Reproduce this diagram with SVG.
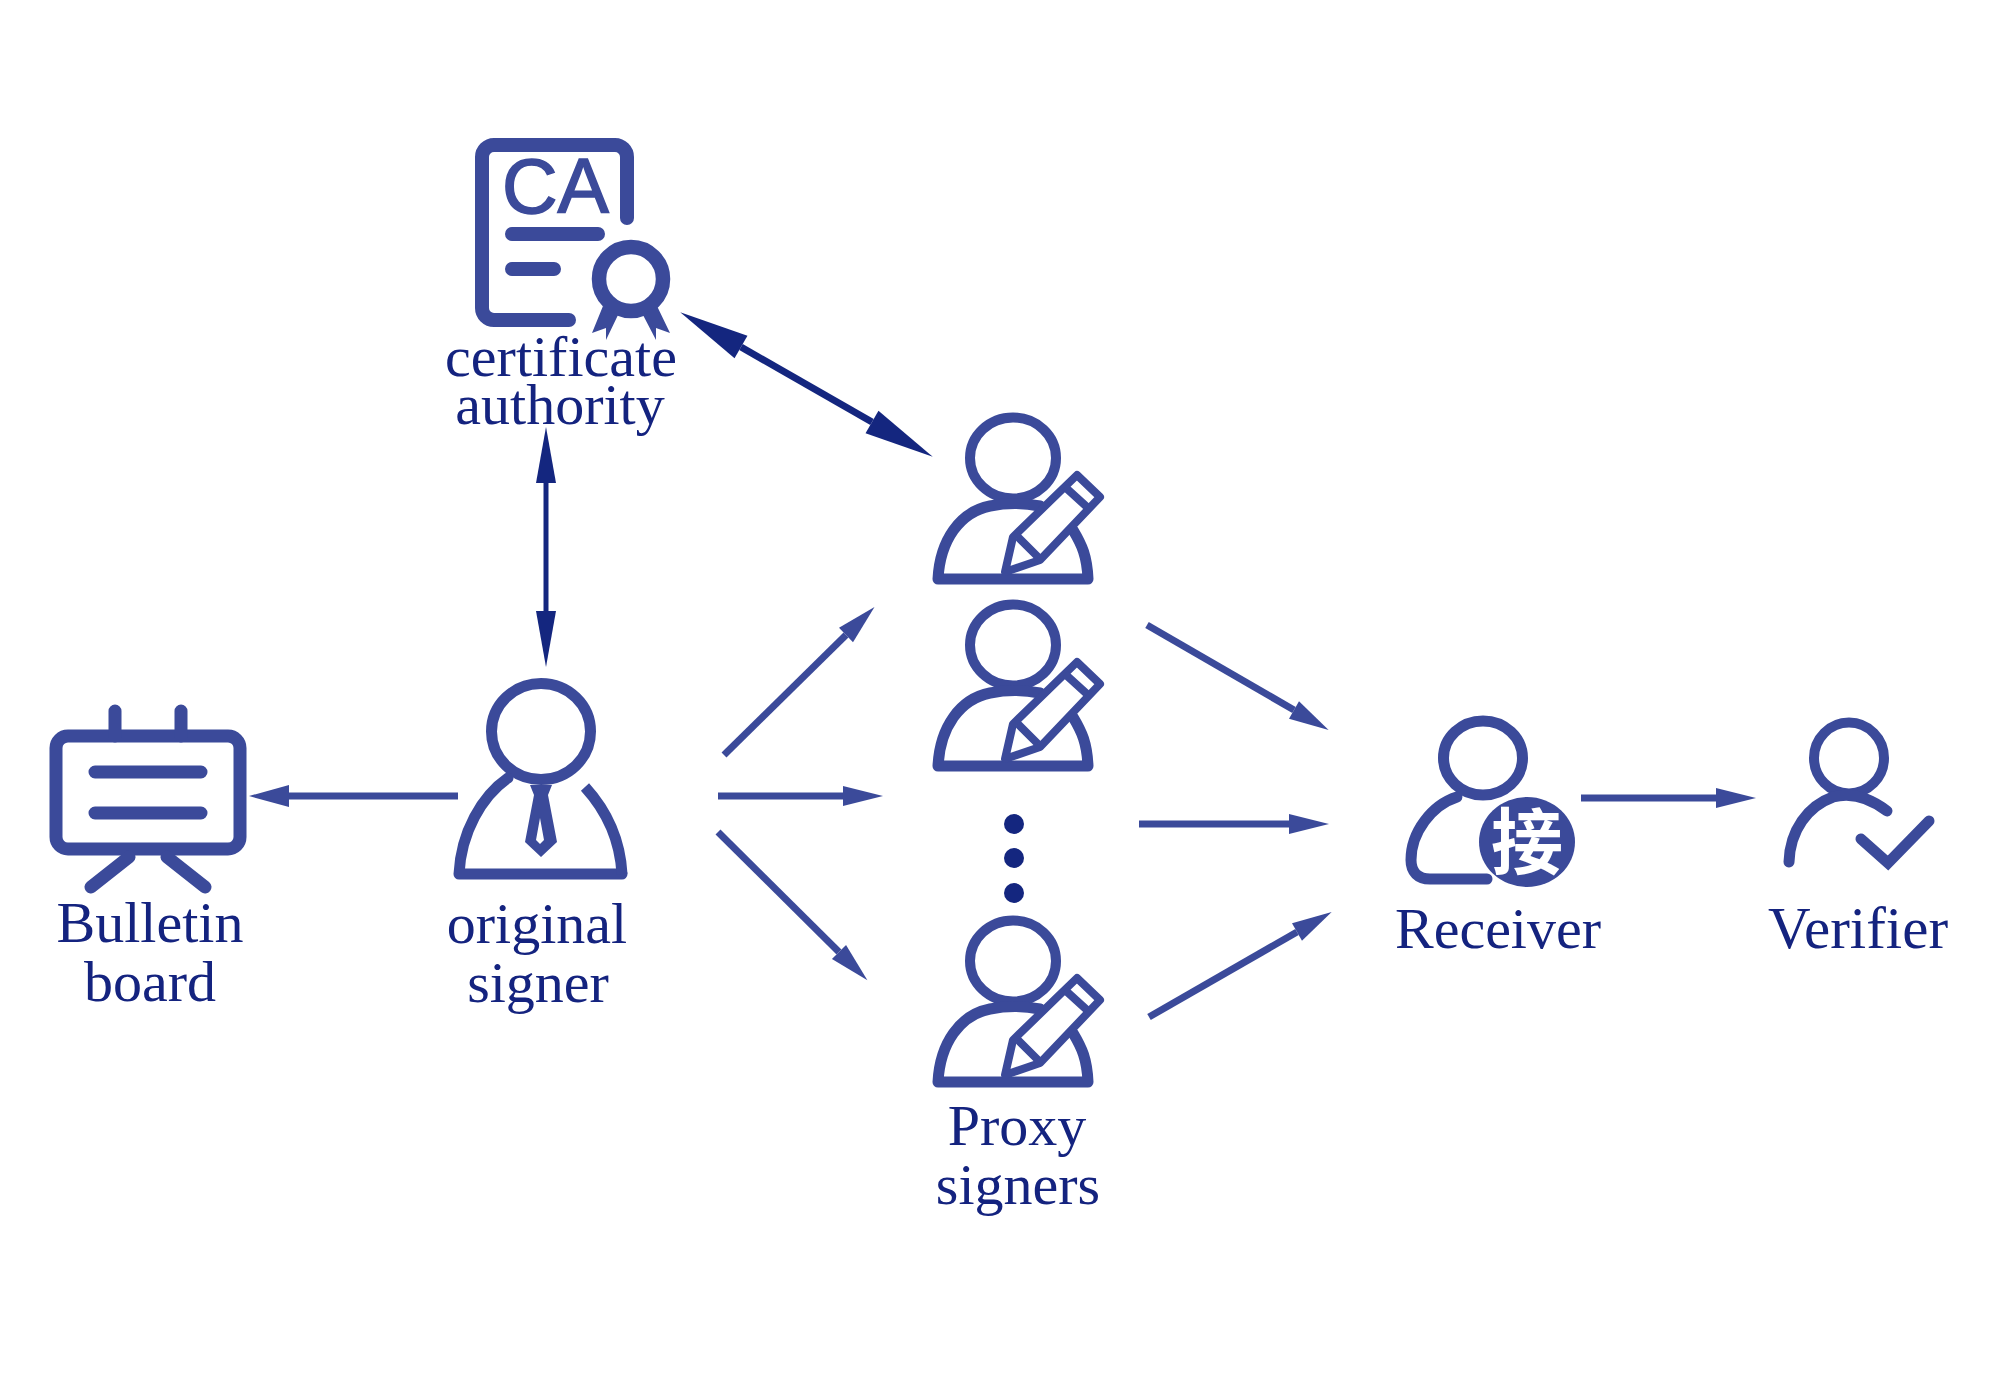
<svg xmlns="http://www.w3.org/2000/svg" xmlns:xlink="http://www.w3.org/1999/xlink" width="2000" height="1395" viewBox="0 0 2000 1395">
<style>
.i{fill:none;stroke:#3b4a9a;stroke-width:11;stroke-linecap:round;stroke-linejoin:round}
.f{fill:#3b4a9a;stroke:none}
.t{font-family:"Liberation Serif","Times New Roman",serif;font-size:58px;fill:#14237f;text-anchor:middle}
.a{stroke:#3b4a9a;stroke-width:7;fill:none}
.d{stroke:#14267f;fill:none}
</style>
<defs>
<marker id="h" markerUnits="userSpaceOnUse" markerWidth="40" markerHeight="24" refX="0" refY="12" orient="auto" overflow="visible"><path d="M0 1L40 12L0 23Z" fill="#3b4a9a"/></marker>
<marker id="h2" markerUnits="userSpaceOnUse" markerWidth="40" markerHeight="24" refX="0" refY="12" orient="auto" overflow="visible"><path d="M0 2L40 12L0 22Z" fill="#3b4a9a"/></marker>
<marker id="dd" markerUnits="userSpaceOnUse" markerWidth="70" markerHeight="28" refX="0" refY="14" orient="auto-start-reverse" overflow="visible"><path d="M0 1L70 14L0 27Z" fill="#14267f"/></marker>
<marker id="dv" markerUnits="userSpaceOnUse" markerWidth="56" markerHeight="24" refX="0" refY="12" orient="auto-start-reverse" overflow="visible"><path d="M0 2L56 12L0 22Z" fill="#14267f"/></marker>
<g id="proxyIcon">
<ellipse cx="1013" cy="458" rx="43" ry="40.500" fill="none" stroke="#3b4a9a" stroke-width="10"/>
<path class="i" d="M938 579H1088C1087 556 1082 545 1073 530M938 579C940 540 960 512 990 506C1005 503 1025 503 1040 506"/>
<path d="M1005 572L1013 537L1077 475L1100 497L1040 560Z" fill="#fff" stroke="#3b4a9a" stroke-width="8" stroke-linejoin="round"/>
<path d="M1018 537L1038 557M1065 487L1087 507" fill="none" stroke="#3b4a9a" stroke-width="8"/>
</g>
</defs>
<rect width="2000" height="1395" fill="#fff"/>
<g id="connectors">
<line class="d" stroke-width="7" x1="741" y1="347" x2="872" y2="422" marker-start="url(#dd)" marker-end="url(#dd)"/>
<line class="d" stroke-width="5" x1="546" y1="483" x2="546" y2="611" marker-start="url(#dv)" marker-end="url(#dv)"/>
<line class="a" x1="458" y1="796" x2="289" y2="796" marker-end="url(#h)"/>
<line class="a" x1="724" y1="755" x2="846" y2="635" marker-end="url(#h2)"/>
<line class="a" x1="718" y1="796" x2="843" y2="796" marker-end="url(#h2)"/>
<line class="a" x1="718" y1="832" x2="839" y2="952" marker-end="url(#h2)"/>
<line class="a" x1="1147" y1="625" x2="1294" y2="710" marker-end="url(#h2)"/>
<line class="a" x1="1139" y1="824" x2="1289" y2="824" marker-end="url(#h2)"/>
<line class="a" x1="1149" y1="1017" x2="1297" y2="932" marker-end="url(#h2)"/>
<line class="a" x1="1581" y1="798" x2="1716" y2="798" marker-end="url(#h2)"/>
</g>
<g id="certificate-authority">
<path class="i" style="stroke-width:14" d="M569 320H494A12 12 0 0 1 482 308V157A12 12 0 0 1 494 145H615A12 12 0 0 1 627 157V218"/>
<text x="555.500" y="213" font-family="Liberation Sans,Arial,sans-serif" font-size="77" fill="#3b4a9a" stroke="#3b4a9a" stroke-width="1.500" text-anchor="middle">CA</text>
<path class="i" style="stroke-width:14" d="M512 234H598M512 269H554"/>
<circle cx="631" cy="279" r="32" fill="none" stroke="#3b4a9a" stroke-width="14.500"/>
<path class="f" d="M603 306L592 333L606 328L606 340L618 315ZM657 306L670 333L656 328L656 340L643 315Z"/>
<text class="t" x="561" y="376">certificate</text>
<text class="t" x="560" y="424">authority</text>
</g>
<g id="bulletin-board">
<rect x="56" y="736" width="184" height="113" rx="12" fill="none" stroke="#3b4a9a" stroke-width="13"/>
<path class="i" style="stroke-width:13" d="M115 711V736M181 711V736M95 772H201M95 813H201M129 857L91 887M167 857L205 887"/>
<text class="t" x="150" y="942">Bulletin</text>
<text class="t" x="150" y="1001">board</text>
</g>
<g id="original-signer">
<ellipse cx="541" cy="731.500" rx="49.500" ry="48" fill="none" stroke="#3b4a9a" stroke-width="11"/>
<path class="i" d="M459 874H622M459 874C461 832 482 796 508 778"/>
<path fill="none" stroke="#3b4a9a" stroke-width="11" d="M622 874C620 838 606 810 585 787"/>
<path class="f" fill-rule="evenodd" d="M530 785H552L548 795L557 842L541 857L525 842L534 795ZM540 818L536 840L540 844L544 840Z"/>
<text class="t" x="537" y="943">original</text>
<text class="t" x="538" y="1002">signer</text>
</g>
<g id="proxy-signers">
<use href="#proxyIcon" xlink:href="#proxyIcon"/>
<use href="#proxyIcon" xlink:href="#proxyIcon" y="187"/>
<use href="#proxyIcon" xlink:href="#proxyIcon" y="503"/>
<circle cx="1014" cy="824" r="10" fill="#14267f"/>
<circle cx="1014" cy="858" r="10" fill="#14267f"/>
<circle cx="1014" cy="893" r="10" fill="#14267f"/>
<text class="t" x="1017" y="1145">Proxy</text>
<text class="t" x="1018" y="1204">signers</text>
</g>
<g id="receiver">
<ellipse cx="1483" cy="758" rx="39.500" ry="37" fill="none" stroke="#3b4a9a" stroke-width="11"/>
<path class="i" d="M1457 797C1432 805 1411 832 1411 860C1411 872 1418 879 1430 879H1487"/>
<ellipse cx="1527" cy="842" rx="48" ry="45" fill="#3b4a9a"/>
<text x="1527" y="868" font-family="Noto Sans CJK SC,sans-serif" font-size="72" font-weight="700" fill="#fff" text-anchor="middle">接</text>
<text class="t" x="1498" y="948">Receiver</text>
</g>
<g id="verifier">
<ellipse cx="1849" cy="758" rx="35" ry="35.500" fill="none" stroke="#3b4a9a" stroke-width="10"/>
<path class="i" d="M1789 862C1790 830 1808 806 1833 797C1852 792 1870 798 1887 811"/>
<path class="i" style="stroke-linejoin:miter" d="M1861 839L1888 863L1929 821"/>
<text class="t" x="1858" y="948" style="font-size:59px">Verifier</text>
</g>
</svg>
